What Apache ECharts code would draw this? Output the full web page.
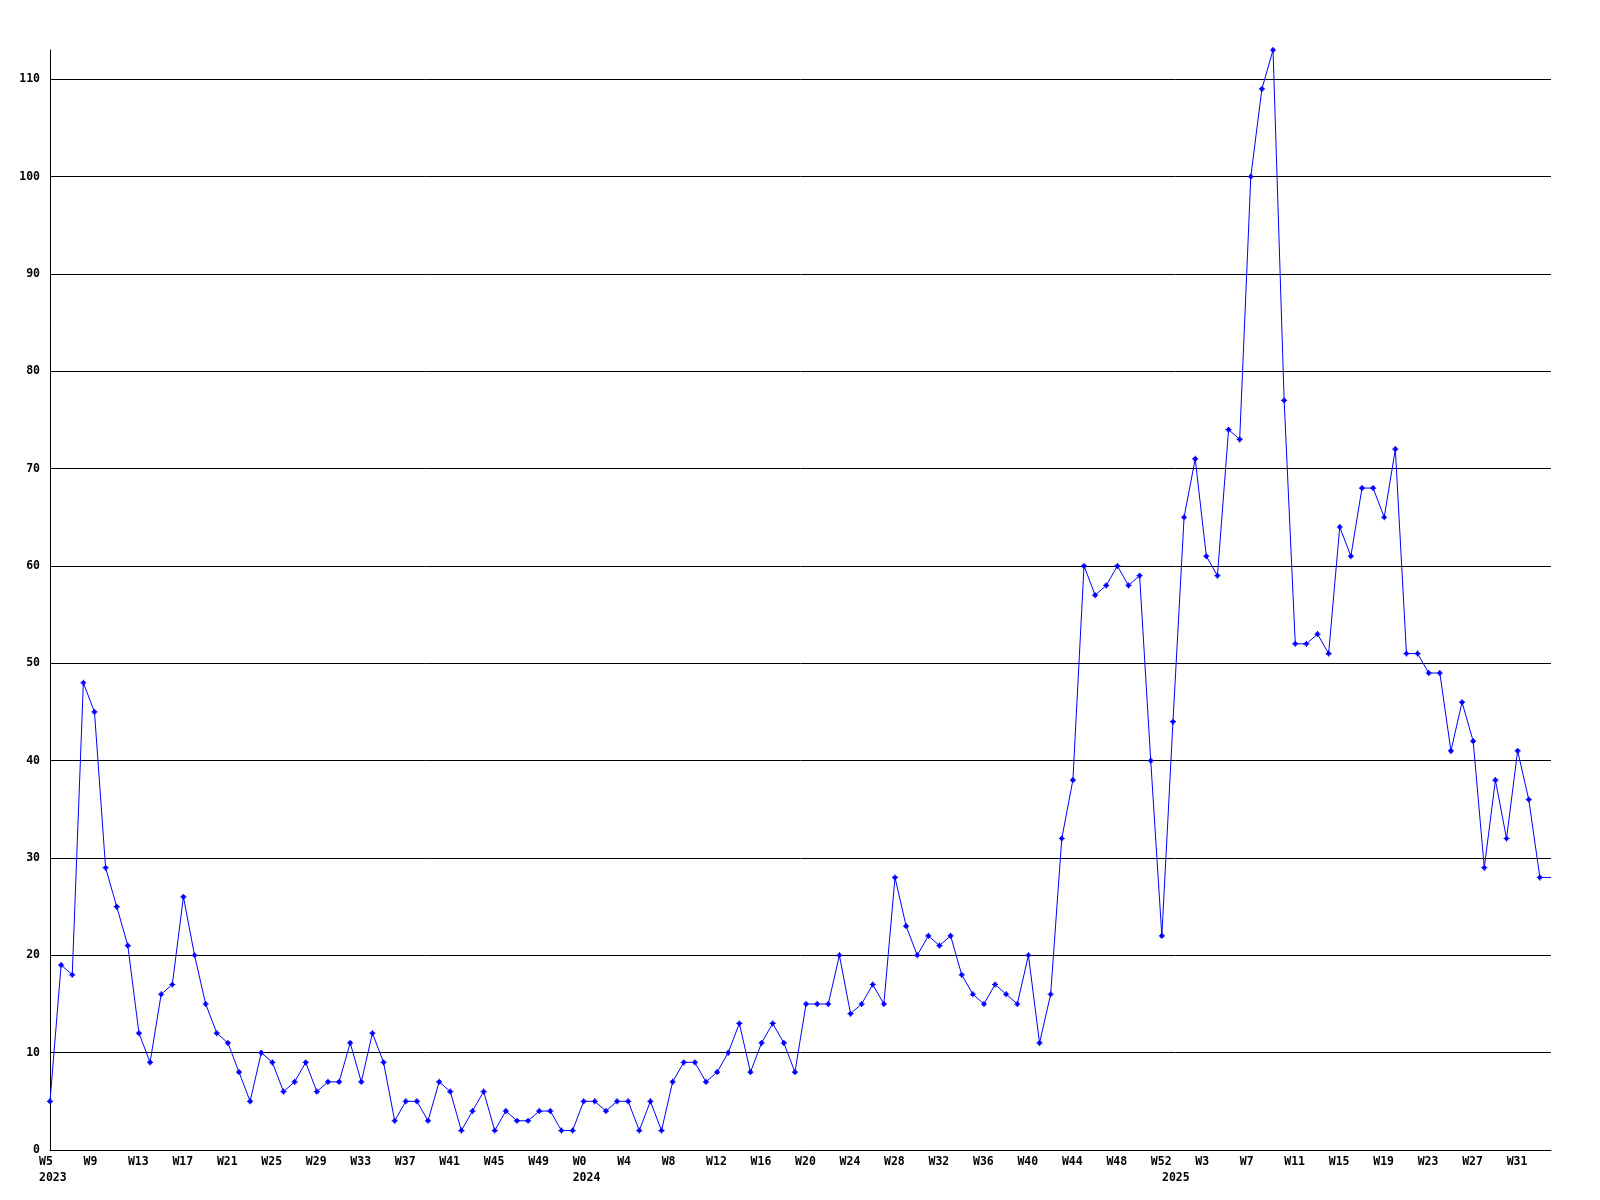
<!DOCTYPE html>
<html>
<head>
<meta charset="utf-8">
<style>
  html, body { margin: 0; padding: 0; background: #fff; }
  #chart { width: 1600px; height: 1200px; }
</style>
<script src="https://cdn.jsdelivr.net/npm/echarts@6/dist/echarts.min.js"></script>
</head>
<body>
<div id="chart"></div>
<script>
// Week ranges per year: [year, firstWeek, lastWeek]
const weekRanges = [[2023, 5, 52], [2024, 0, 52], [2025, 0, 34]];

// Weekly values, one per category (W5 2023 .. W34 2025)
const values2023 = [5,19,18,48,45,29,25,21,12,9,16,17,26,20,15,12,11,8,5,10,9,6,7,9,6,7,7,11,7,12,9,3,
                    5,5,3,7,6,2,4,6,2,4,3,3,4,4,2,2];
const values2024 = [5,5,4,5,5,2,5,2,7,9,9,7,8,10,13,8,11,13,11,8,
                    15,15,15,20,14,15,17,15,28,23,20,22,21,22,18,16,15,17,16,15,20,11,16,
                    32,38,60,57,58,60,58,59,40,22];
const values2025 = [44,65,71,61,59,74,73,100,109,113,77,52,52,53,51,64,61,68,68,65,72,51,51,49,49,41,46,42,29,38,32,41,36,28,28];

const yTicks = { min: 0, max: 113, interval: 10 };

const categories = [];
const yearStart = {};
weekRanges.forEach(([y, a, b]) => {
  yearStart[categories.length] = y;
  for (let w = a; w <= b; w++) categories.push(y + '-W' + w);
});
const values = values2023.concat(values2024, values2025);

const FONT = 'DejaVu Sans Mono';
const plusPath = 'path://M2,0H3V1H4V2H5V3H4V4H3V5H2V4H1V3H0V2H1V1H2Z';

const seriesData = values.map((v, i) => i === values.length - 1 ? { value: v, symbol: 'none' } : v);

const chart = echarts.init(document.getElementById('chart'), null, { renderer: 'canvas' });
chart.setOption({
  animation: false,
  backgroundColor: '#ffffff',
  grid: { left: 50, right: 49, top: 50, bottom: 50, containLabel: false },
  xAxis: {
    type: 'category',
    data: categories,
    boundaryGap: false,
    axisLine: { show: true, lineStyle: { color: '#000', width: 1 } },
    axisTick: { show: false },
    splitLine: { show: false },
    axisLabel: {
      interval: (idx) => idx % 4 === 0 || yearStart[idx] !== undefined,
      margin: 4,
      align: 'center',
      formatter: (val, idx) => {
        const w = val.split('-')[1];
        const top = idx % 4 === 0 ? '{a|' + w + '}' : '{a| }';
        return yearStart[idx] !== undefined ? top + '\n{a|' + yearStart[idx] + '}' : top;
      },
      rich: {
        a: { width: 22, align: 'left', fontFamily: FONT, fontSize: 11.5, fontWeight: 'bold', lineHeight: 16, color: '#000' }
      }
    }
  },
  yAxis: {
    type: 'value',
    min: yTicks.min,
    max: yTicks.max,
    interval: yTicks.interval,
    axisLine: { show: true, lineStyle: { color: '#000', width: 1 } },
    axisTick: { show: false },
    splitLine: { show: true, showMaxLine: false, lineStyle: { color: '#000', width: 1 } },
    axisLabel: {
      showMaxLabel: false,
      margin: 10,
      fontFamily: FONT,
      fontSize: 11.5,
      fontWeight: 'bold',
      color: '#000'
    }
  },
  series: [{
    type: 'line',
    data: seriesData,
    symbol: plusPath,
    symbolSize: 6,
    showAllSymbol: true,
    itemStyle: { color: '#0000ff' },
    lineStyle: { color: '#0000ff', width: 1 },
    emphasis: { disabled: true }
  }]
});
</script>
</body>
</html>
